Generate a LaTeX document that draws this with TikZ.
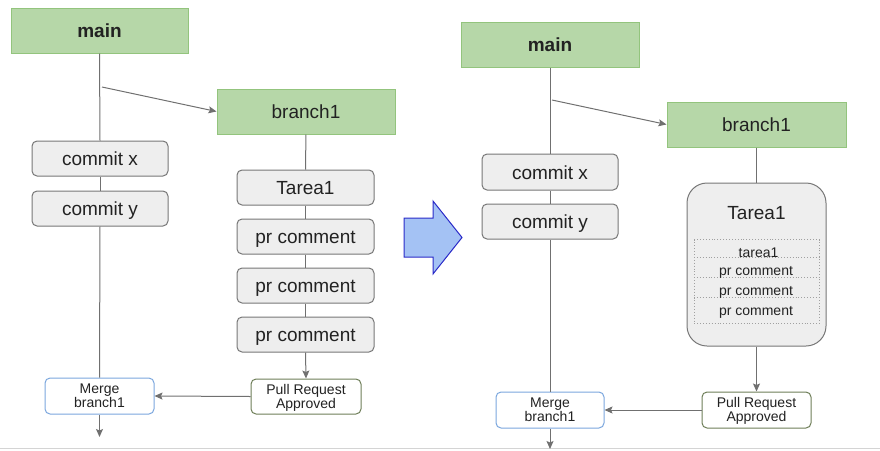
\documentclass[tikz,border=0pt]{standalone}
\usepackage{fontspec}
\setmainfont{Liberation Sans}
\usetikzlibrary{arrows.meta}
\definecolor{grnfill}{HTML}{B6D7A8}
\definecolor{grnline}{HTML}{93C47D}
\definecolor{boxfill}{HTML}{EEEEEE}
\definecolor{boxline}{HTML}{777777}
\definecolor{linegray}{HTML}{707070}
\definecolor{mergeline}{HTML}{7BA7DE}
\definecolor{prline}{HTML}{6E7E58}
\definecolor{txt}{HTML}{222222}
\definecolor{dotline}{HTML}{A0A0A0}
\definecolor{bigfill}{HTML}{A4C2F4}
\definecolor{bigline}{HTML}{2A2AC8}
\definecolor{edge}{HTML}{D4D4D4}
\tikzset{
  branchbox/.style={draw=grnline, fill=grnfill, line width=1pt, inner sep=0pt,
    text=txt, text height=14pt, text depth=0pt, font=\fontsize{19}{22}\selectfont},
  commitbox/.style={draw=boxline, fill=boxfill, line width=1pt, rounded corners=5pt,
    inner sep=0pt, minimum width=136pt, minimum height=35pt, text=txt,
    text height=14pt, text depth=0pt, font=\fontsize{19}{22}\selectfont},
  smallbox/.style={fill=white, line width=1pt, rounded corners=5pt, inner sep=0pt,
    minimum width=109pt, minimum height=36pt, align=center, text=txt,
    text height=23pt, text depth=0pt, font=\fontsize{14}{14}\selectfont},
  mergebox/.style={smallbox, draw=mergeline},
  prbox/.style={smallbox, draw=prline},
  link/.style={draw=linegray, line width=1pt},
  arr/.style={link, -{Stealth[length=8pt,width=7pt,inset=1.5pt]}},
  rowtext/.style={inner sep=0pt, text=txt, text height=10pt, text depth=0pt,
    font=\fontsize{14}{17}\selectfont},
  dotrule/.style={dotline, dotted, line width=0.9pt},
}
\begin{document}
\begin{tikzpicture}[x=1pt,y=-1pt]
\useasboundingbox (0,0) rectangle (880,450);
\draw[edge, line width=1pt] (0,448.5) -- (880,448.5);

% ---------------- left diagram ----------------
\node[branchbox, minimum width=177pt, minimum height=45pt, font=\fontsize{19}{22}\selectfont\bfseries] (mainL) at (99.5,30.5) {main};
\node[branchbox, minimum width=178pt, minimum height=45pt] (bL) at (306,111.5) {branch1};
\node[commitbox] (cxL) at (100,158.5) {commit x};
\node[commitbox] (cyL) at (100,208.5) {commit y};
\node[commitbox, minimum width=137pt] (tL) at (305.5,187.5) {Tarea1};
\node[commitbox, minimum width=137pt] (p1L) at (305.5,236.5) {pr comment};
\node[commitbox, minimum width=137pt] (p2L) at (305.5,285.5) {pr comment};
\node[commitbox, minimum width=137pt] (p3L) at (305.5,334.5) {pr comment};
\node[mergebox] (mL) at (99.5,396) {Merge\\branch1};
\node[prbox, minimum width=110pt, minimum height=35pt] (prL) at (306,396.5) {Pull Request\\Approved};
\coordinate (fL) at (102,87);
\coordinate (eL) at (99.5,437);

\path[link] (mainL.south) -- (cxL.north);
\path[link] (cxL) -- (cyL);
\path[link] (cyL.south) -- (mL.north);
\path[arr] (fL) -- (bL.west);
\path[link] (bL) -- (tL);
\path[link] (tL) -- (p1L);
\path[link] (p1L) -- (p2L);
\path[link] (p2L) -- (p3L);
\path[arr] (p3L.south) -- (prL.north);
\path[arr] (prL.west) -- (mL.east);
\path[arr] (mL.south) -- (eL);

% ---------------- big arrow ----------------
\draw[fill=bigfill, draw=bigline, line width=1pt, line join=miter]
  (404,218) -- (433,218) -- (433,201) -- (462,237.5) -- (433,274) -- (433,257) -- (404,257) -- cycle;

% ---------------- right diagram ----------------
\node[branchbox, minimum width=178pt, minimum height=45pt, font=\fontsize{19}{22}\selectfont\bfseries] (mainR) at (550,44.5) {main};
\node[branchbox, minimum width=179pt, minimum height=45pt] (bR) at (756.5,124.5) {branch1};
\node[commitbox, minimum height=36pt] (cxR) at (550,172) {commit x};
\node[commitbox] (cyR) at (550,221.5) {commit y};
\node[draw=boxline, fill=boxfill, line width=1pt, rounded corners=20pt,
  minimum width=139pt, minimum height=163pt, inner sep=0pt] (bigR) at (756.5,264.5) {};
\node[inner sep=0pt, text=txt, text height=14pt, text depth=0pt, font=\fontsize{19}{22}\selectfont] (ttlR) at (756.5,212.3) {Tarea1};
\draw[dotrule] (694,239.5) rectangle (819.5,323.3);
\draw[dotrule] (694,257.7) -- (819.5,257.7);
\draw[dotrule] (694,277.7) -- (819.5,277.7);
\draw[dotrule] (694,297.7) -- (819.5,297.7);
\node[rowtext] (r1) at (758.5,252.3) {tarea1};
\node[rowtext] (r2) at (756,270) {pr comment};
\node[rowtext] (r3) at (756,290) {pr comment};
\node[rowtext] (r4) at (756,310) {pr comment};
\node[mergebox, minimum width=108pt] (mR) at (550,410) {Merge\\branch1};
\node[prbox] (prR) at (756.5,410) {Pull Request\\Approved};
\coordinate (fR) at (552,100);
\coordinate (eR) at (550,449);

\path[link] (mainR.south) -- (cxR.north);
\path[link] (cxR) -- (cyR);
\path[link] (cyR.south) -- (mR.north);
\path[arr] (fR) -- (bR.west);
\path[link] (bR.south) -- (bigR.north);
\path[arr] (bigR.south) -- (prR.north);
\path[arr] (prR.west) -- (mR.east);
\path[arr] (mR.south) -- (eR);
\end{tikzpicture}
\end{document}
